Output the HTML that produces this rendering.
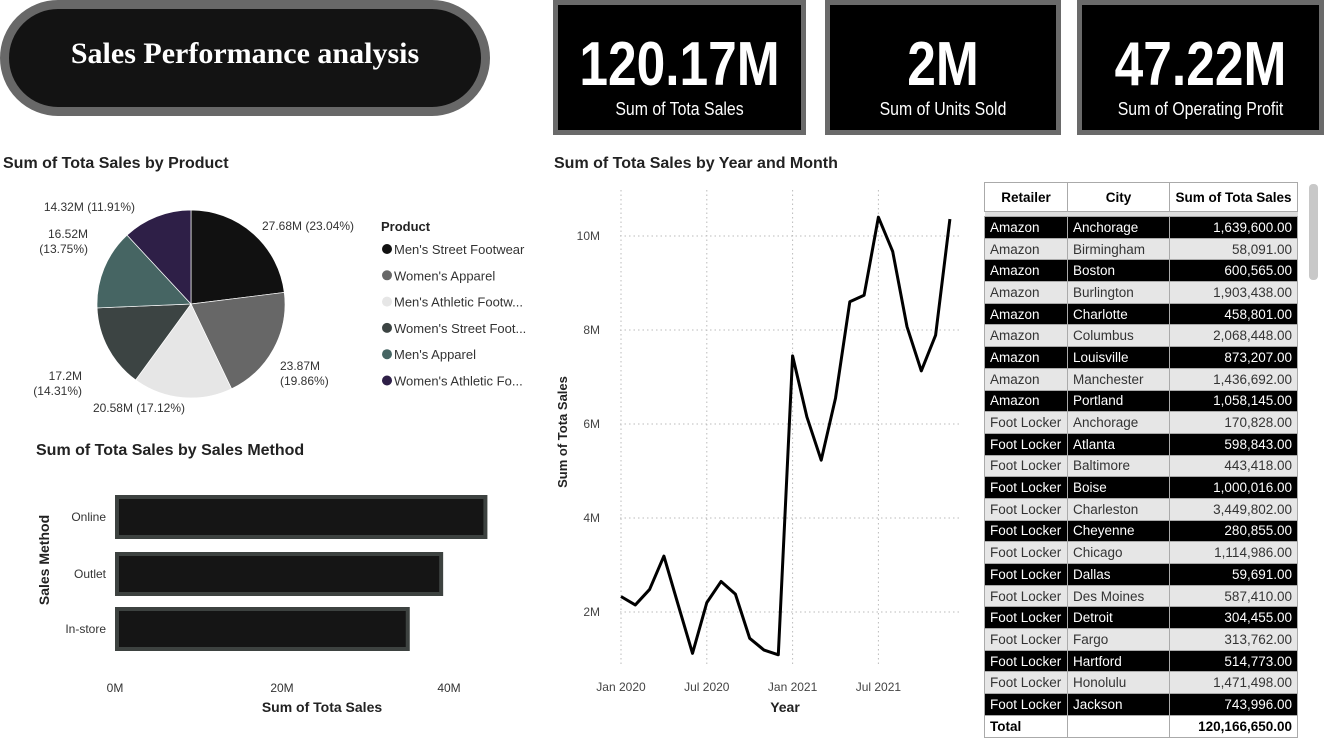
<!DOCTYPE html>
<html><head><meta charset="utf-8"><style>
body{margin:0;width:1324px;height:739px;background:#fff;position:relative;overflow:hidden;font-family:"Liberation Sans",sans-serif;}
.abs{position:absolute;}
.kpi{position:absolute;top:0;height:125px;background:#000;border:5px solid #6a6a6a;color:#fff;text-align:center;}
.kpi .v{font-family:"Liberation Sans",sans-serif;font-weight:bold;font-size:62px;margin-top:30px;line-height:60px;transform:scaleX(0.83);}
.kpi .l{font-family:"Liberation Sans",sans-serif;font-size:18px;margin-top:4px;transform:scaleX(0.88)}
.ttl{position:absolute;font-weight:bold;font-size:16px;color:#222;}
table{border-collapse:collapse;font-size:13.5px;}
td{height:21.7px;padding:0 5px;border:1px solid #aaa;box-sizing:border-box;}
</style></head><body>
<div class="abs" style="left:0;top:0;width:472px;height:98px;background:#131313;border:9px solid #686868;border-radius:60px;color:#fff;font-family:'Liberation Serif',serif;font-weight:bold;font-size:30px;text-align:center;line-height:90px;">Sales Performance analysis</div>

<div class="kpi" style="left:553px;width:243px"><div class="v">120.17M</div><div class="l">Sum of Tota Sales</div></div>
<div class="kpi" style="left:825px;width:226px"><div class="v">2M</div><div class="l">Sum of Units Sold</div></div>
<div class="kpi" style="left:1077px;width:237px"><div class="v">47.22M</div><div class="l">Sum of Operating Profit</div></div>

<div class="ttl" style="left:3px;top:155px">Sum of Tota Sales by Product</div>
<svg class="abs" style="left:0;top:180px" width="550" height="240" id="pie"></svg>

<div class="ttl" style="left:36px;top:442px">Sum of Tota Sales by Sales Method</div>
<svg class="abs" style="left:0;top:470px" width="550" height="269" id="bar"></svg>

<div class="ttl" style="left:554px;top:155px">Sum of Tota Sales by Year and Month</div>
<svg class="abs" style="left:550px;top:180px" width="420" height="559" id="line"></svg>

<div class="abs" style="left:984px;top:182px;">
<table id="tbl"></table></div>
<div class="abs" style="left:1309px;top:184px;width:9px;height:96px;background:#c8c8c8;border-radius:4px"></div>

<script>
const NS="http://www.w3.org/2000/svg";
function mk(p,t,a,txt){const e=document.createElementNS(NS,t);for(const k in a)e.setAttribute(k,a[k]);if(txt!==undefined)e.textContent=txt;p.appendChild(e);return e;}

// PIE
const pieCats=["Men's Street Footwear","Women's Apparel","Men's Athletic Footwear","Women's Street Footwear","Men's Apparel","Women's Athletic Footwear"];
const pieLegend=["Men's Street Footwear","Women's Apparel","Men's Athletic Footw...","Women's Street Foot...","Men's Apparel","Women's Athletic Fo..."];
const pieVals=[27.68,23.87,20.58,17.2,16.52,14.32];
const piePct=["23.04%","19.86%","17.12%","14.31%","13.75%","11.91%"];
const pieColors=["#111111","#676767","#e6e6e6","#3c4443","#466563","#2e1f47"];
(function(){
const s=document.getElementById('pie');const cx=191,cy=124,r=94;
const tot=pieVals.reduce((a,b)=>a+b,0);let a0=-Math.PI/2;
const labelPos=[[262,50,'start',1],[280,190,'start',2],[185,232,'end',1],[82,200,'end',2],[88,58,'end',2],[135,31,'end',1]];
pieVals.forEach((v,i)=>{
 const a1=a0+v/tot*2*Math.PI;
 const x0=cx+r*Math.cos(a0),y0=cy+r*Math.sin(a0),x1=cx+r*Math.cos(a1),y1=cy+r*Math.sin(a1);
 const p=mk(s,'path',{d:`M${cx},${cy}L${x0},${y0}A${r},${r} 0 ${a1-a0>Math.PI?1:0} 1 ${x1},${y1}Z`,fill:pieColors[i],stroke:'#fff','stroke-width':0.7});
 
 
 const lp=labelPos[i];const lab=v+'M';
 const t=mk(s,'text',{x:lp[0],y:lp[1],'text-anchor':lp[2],'font-size':12,fill:'#333'});
 
 
 if(lp[3]==1){t.textContent=lab+' ('+piePct[i]+')';}
 else{mk(t,'tspan',{x:lp[0]},lab);mk(t,'tspan',{x:lp[0],dy:15},'('+piePct[i]+')');}
 a0=a1;
});
const lt=mk(s,'text',{x:381,y:51,'font-size':13,'font-weight':'bold',fill:'#222'},'Product');


pieLegend.forEach((n,i)=>{
 const y=69+i*26.3;
 const g=mk(s,'g',{});
 
 
 mk(g,'circle',{cx:387,cy:y,r:5,fill:pieColors[i]});
 mk(g,'text',{x:394,y:y+5,'font-size':13,fill:'#333'},n);
});
})();

// BAR
const barCats=["Online","Outlet","In-store"];
const barVals=[44.6,39.3,35.3];
const barTicks=[0,20,40];
(function(){
const s=document.getElementById('bar');const x0=115,k=8.35;
const ys=[25,82,137];
barTicks.forEach(t=>{const e=mk(s,'text',{x:x0+t*k,y:222,'text-anchor':'middle','font-size':12,fill:'#333'},t+'M');
 
 });
barCats.forEach((c,i)=>{
 const r=mk(s,'rect',{x:x0+2,y:ys[i]+2,width:barVals[i]*k-4,height:40,fill:'#151515',stroke:'#3d4240','stroke-width':4});
 
 
 const t=mk(s,'text',{x:106,y:ys[i]+26,'text-anchor':'end','font-size':12,fill:'#333'},c);
 
 
});
const xt=mk(s,'text',{x:322,y:242,'text-anchor':'middle','font-size':14,'font-weight':'bold',fill:'#222'},'Sum of Tota Sales');


const yt=mk(s,'text',{x:0,y:0,transform:'translate(49,90) rotate(-90)','text-anchor':'middle','font-size':14,'font-weight':'bold',fill:'#222'},'Sales Method');


})();

// LINE
const lineVals=[2.33,2.15,2.48,3.19,2.15,1.12,2.2,2.65,2.38,1.44,1.19,1.09,7.45,6.15,5.23,6.55,8.6,8.74,10.4,9.67,8.07,7.13,7.89,10.36];
const lineYTicks=[2,4,6,8,10];
const lineXTicks=["Jan 2020","Jul 2020","Jan 2021","Jul 2021"];
const lineXTickIdx=[0,6,12,18];
(function(){
const s=document.getElementById('line');
const X=i=>71+i*14.3, Y=v=>526-v*47;
lineYTicks.forEach(t=>{
 mk(s,'line',{x1:70,x2:410,y1:Y(t),y2:Y(t),stroke:'#bbb','stroke-dasharray':'1.5,3'});
 const e=mk(s,'text',{x:50,y:Y(t)+4,'text-anchor':'end','font-size':12,fill:'#444'},t+'M');
 
 
});
lineXTicks.forEach((t,j)=>{
 const x=X(lineXTickIdx[j]);
 mk(s,'line',{x1:x,x2:x,y1:10,y2:485,stroke:'#bbb','stroke-dasharray':'1.5,3'});
 const e=mk(s,'text',{x:x,y:511,'text-anchor':'middle','font-size':12,fill:'#444'},t);
 
 
});
const p=mk(s,'polyline',{points:lineVals.map((v,i)=>X(i)+','+Y(v)).join(' '),fill:'none',stroke:'#000','stroke-width':3,'stroke-linejoin':'round'});


const xt=mk(s,'text',{x:235,y:532,'text-anchor':'middle','font-size':14,'font-weight':'bold',fill:'#222'},'Year');


const yt=mk(s,'text',{x:0,y:0,transform:'translate(17,252) rotate(-90)','text-anchor':'middle','font-size':13,'font-weight':'bold',fill:'#222'},'Sum of Tota Sales');


})();

// TABLE
const retailers=["Amazon","Amazon","Amazon","Amazon","Amazon","Amazon","Amazon","Amazon","Amazon","Foot Locker","Foot Locker","Foot Locker","Foot Locker","Foot Locker","Foot Locker","Foot Locker","Foot Locker","Foot Locker","Foot Locker","Foot Locker","Foot Locker","Foot Locker","Foot Locker"];
const cities=["Anchorage","Birmingham","Boston","Burlington","Charlotte","Columbus","Louisville","Manchester","Portland","Anchorage","Atlanta","Baltimore","Boise","Charleston","Cheyenne","Chicago","Dallas","Des Moines","Detroit","Fargo","Hartford","Honolulu","Jackson"];
const sales=["1,639,600.00","58,091.00","600,565.00","1,903,438.00","458,801.00","2,068,448.00","873,207.00","1,436,692.00","1,058,145.00","170,828.00","598,843.00","443,418.00","1,000,016.00","3,449,802.00","280,855.00","1,114,986.00","59,691.00","587,410.00","304,455.00","313,762.00","514,773.00","1,471,498.00","743,996.00"];
(function(){
const t=document.getElementById('tbl');
let h='<tr style="background:#fff;font-weight:bold;height:29px"><td style="width:83px;text-align:center;height:29px">Retailer</td><td style="width:102px;text-align:center">City</td><td style="width:128px;text-align:center">Sum of Tota Sales</td></tr><tr style="height:5px"><td colspan="3" style="height:5px;padding:0;border:none;background:#ddd"></td></tr>';
retailers.forEach((r,i)=>{
 const dark=i%2==0;
 h+=`<tr style="background:${dark?'#000':'#e6e6e6'};color:${dark?'#fff':'#333'}"><td>${r}</td><td>${cities[i]}</td><td style="text-align:right">${sales[i]}</td></tr>`;
});
h+='<tr style="background:#fff;font-weight:bold"><td>Total</td><td></td><td style="text-align:right">120,166,650.00</td></tr>';
t.innerHTML=h;
})();
</script>
</body></html>
